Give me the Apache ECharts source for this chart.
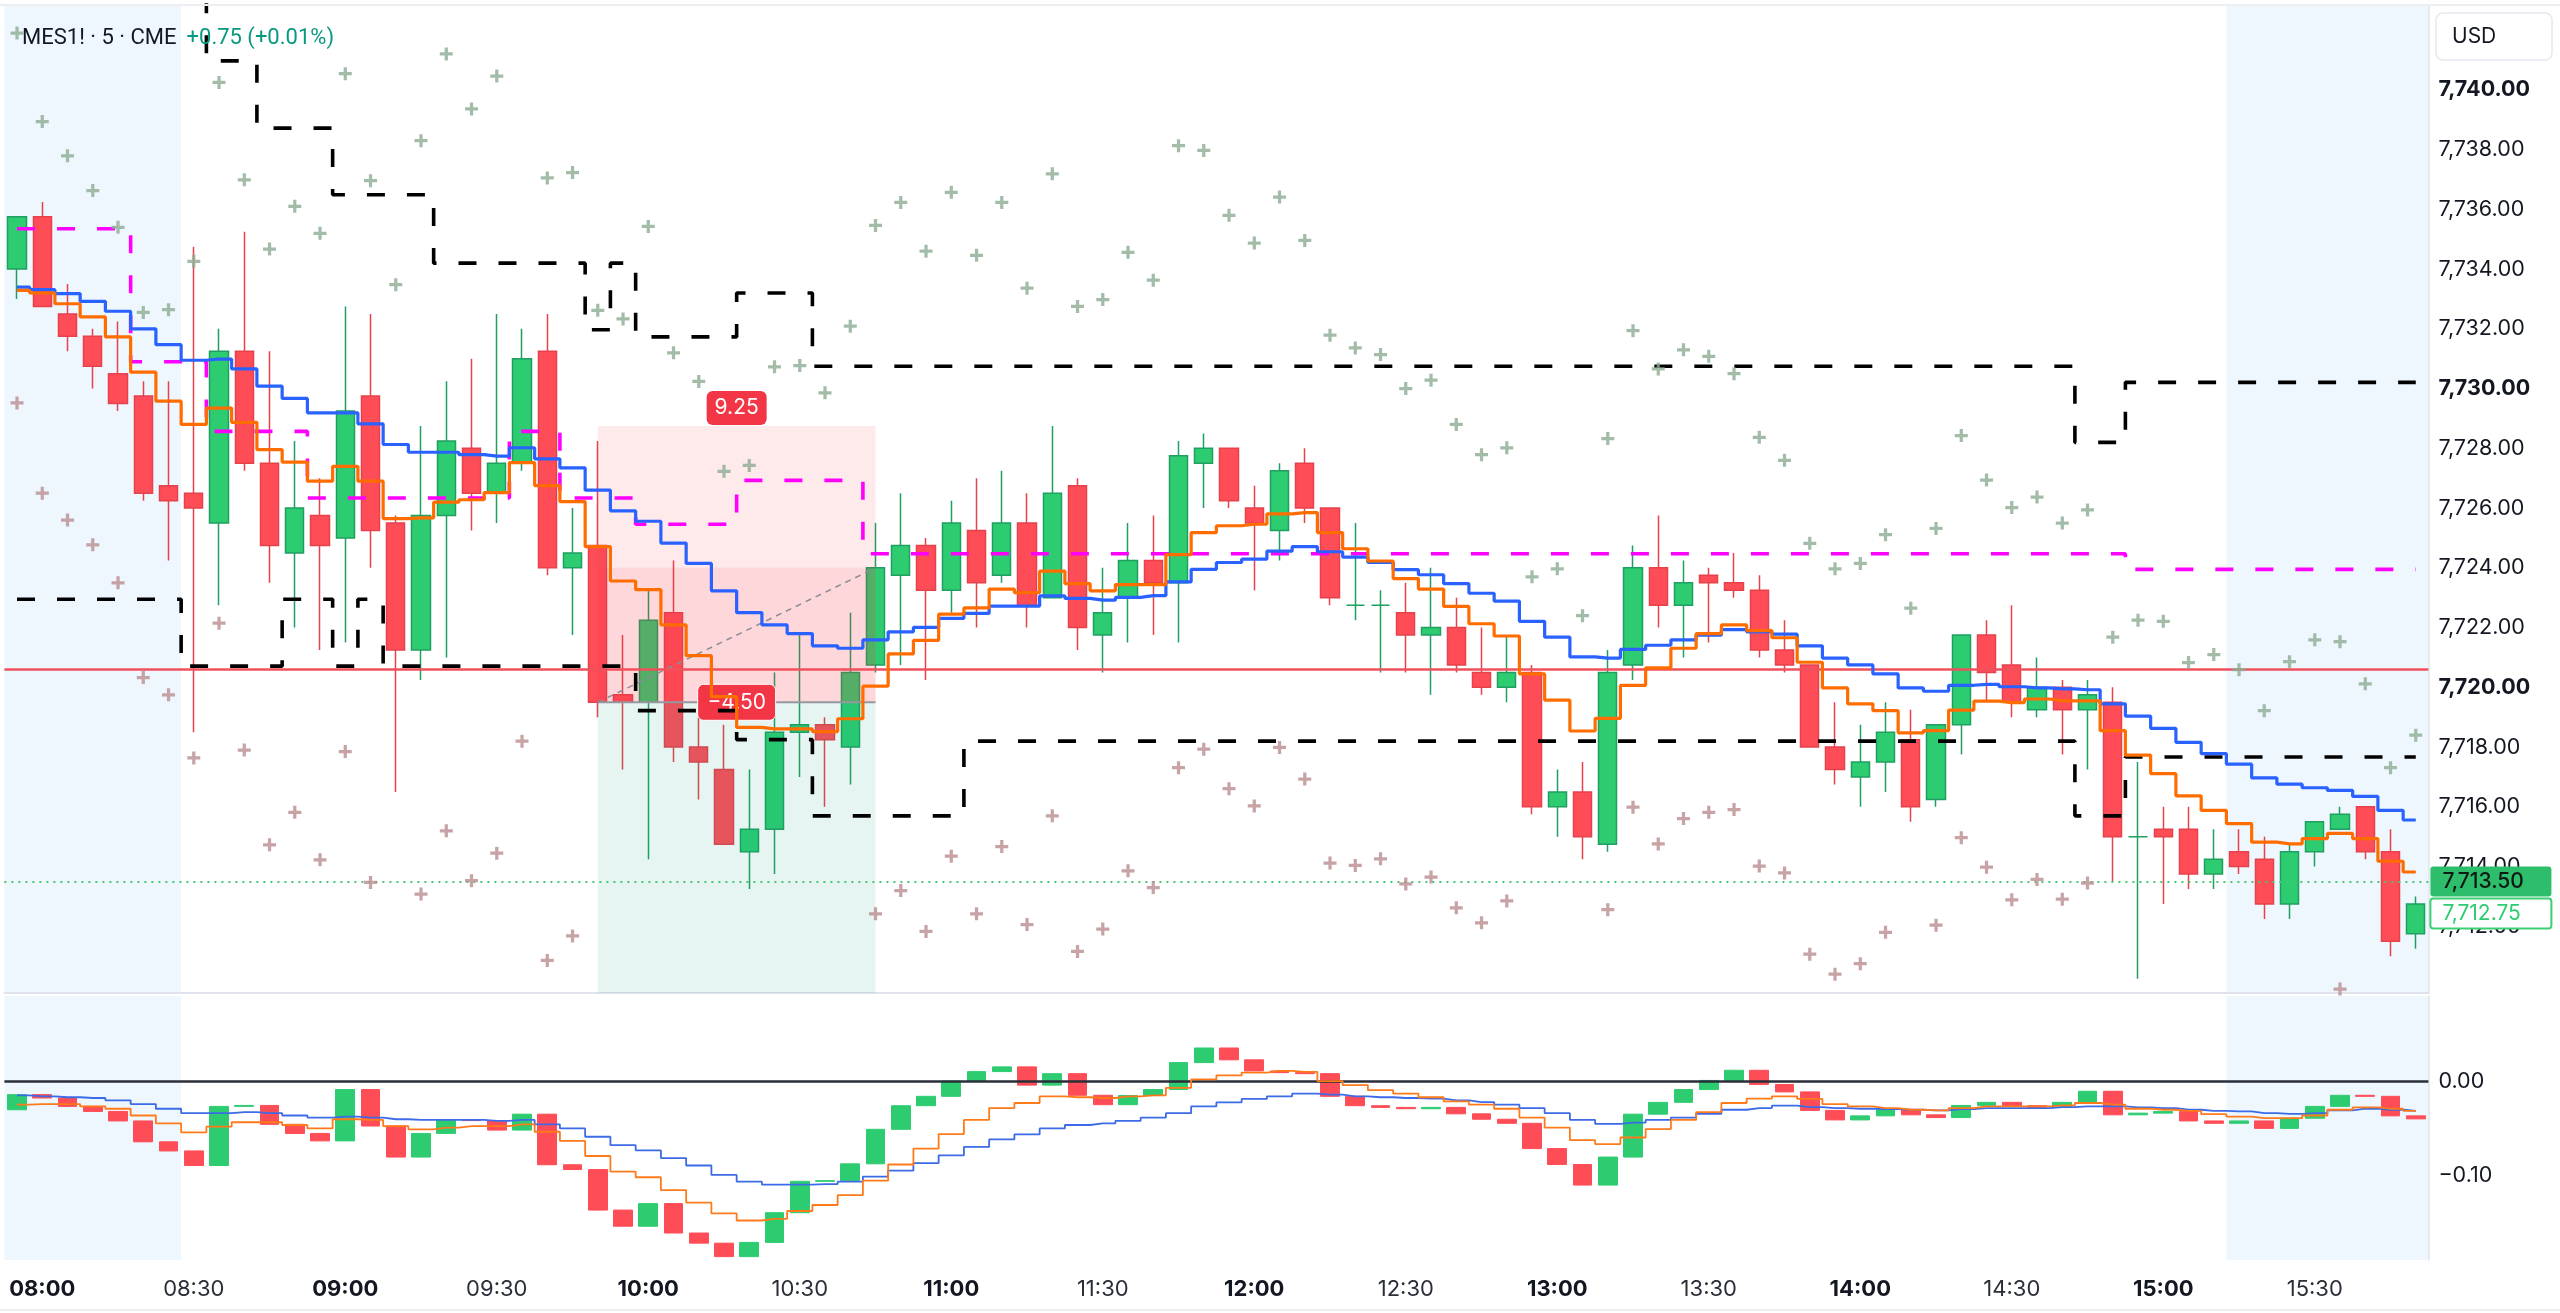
<!DOCTYPE html>
<html><head><meta charset="utf-8">
<script src="https://cdn.jsdelivr.net/npm/echarts@6/dist/echarts.min.js"></script>
<style>html,body{margin:0;padding:0;background:#fff;}#c{width:2560px;height:1313px;}</style>
</head><body><div id="c"></div>
<script>
const times = ["07:55",
"08:00","08:05","08:10","08:15","08:20","08:25","08:30","08:35","08:40","08:45","08:50","08:55",
"09:00","09:05","09:10","09:15","09:20","09:25","09:30","09:35","09:40","09:45","09:50","09:55",
"10:00","10:05","10:10","10:15","10:20","10:25","10:30","10:35","10:40","10:45","10:50","10:55",
"11:00","11:05","11:10","11:15","11:20","11:25","11:30","11:35","11:40","11:45","11:50","11:55",
"12:00","12:05","12:10","12:15","12:20","12:25","12:30","12:35","12:40","12:45","12:50","12:55",
"13:00","13:05","13:10","13:15","13:20","13:25","13:30","13:35","13:40","13:45","13:50","13:55",
"14:00","14:05","14:10","14:15","14:20","14:25","14:30","14:35","14:40","14:45","14:50","14:55",
"15:00","15:05","15:10","15:15","15:20","15:25","15:30","15:35","15:40","15:45","15:50"];

const opens = [7734.0,7735.75,7732.5,7731.75,7730.5,7729.75,7726.75,7726.5,7725.5,7731.25,
7727.5,7724.5,7725.75,7725.0,7729.75,7725.5,7721.25,7725.75,7728.0,7726.5,
7727.5,7731.25,7724.0,7724.75,7719.75,7719.5,7722.5,7718.0,7717.25,7714.5,
7715.25,7718.5,7718.75,7718.0,7720.75,7723.75,7724.75,7723.25,7725.25,7723.75,
7725.5,7723.0,7726.75,7721.75,7723.0,7724.25,7723.5,7727.5,7728.0,7726.0,
7725.25,7727.5,7726.0,7722.75,7722.75,7722.5,7721.75,7722.0,7720.5,7720.0,
7720.5,7716.0,7716.5,7714.75,7720.75,7724.0,7722.75,7723.75,7723.5,7723.25,
7721.25,7720.75,7718.0,7717.0,7717.5,7718.25,7716.25,7718.75,7721.75,7720.75,
7719.25,7720.0,7719.25,7719.5,7715.0,7715.25,7715.25,7713.75,7714.5,7714.25,
7712.75,7714.5,7715.25,7716.0,7714.5,7711.75];
const highs = [7735.75,7736.25,7733.5,7732.0,7732.25,7730.25,7730.25,7734.75,7732.0,7735.25,
7731.25,7728.25,7727.0,7732.75,7732.5,7725.75,7728.75,7730.25,7731.0,7732.5,
7732.0,7732.5,7726.0,7728.25,7721.75,7723.25,7724.25,7719.0,7718.75,7717.25,
7720.5,7721.75,7719.0,7722.5,7725.5,7726.5,7725.0,7726.25,7727.0,7727.25,
7726.5,7728.75,7727.0,7724.0,7725.5,7725.75,7728.25,7728.5,7728.0,7726.75,
7727.5,7728.0,7726.0,7725.5,7723.25,7723.5,7724.0,7723.0,7722.0,7721.75,
7720.75,7717.25,7717.5,7721.25,7724.75,7725.75,7724.25,7724.0,7724.5,7723.75,
7722.25,7720.75,7719.5,7718.75,7719.5,7719.25,7718.75,7721.75,7722.25,7722.75,
7721.0,7720.25,7720.25,7720.0,7717.5,7716.0,7716.0,7715.25,7715.25,7715.0,
7714.75,7715.5,7716.0,7716.0,7715.25,7713.0];
const lows = [7733.0,7732.75,7731.25,7730.0,7729.25,7726.25,7724.25,7718.5,7722.75,7727.25,
7723.5,7722.0,7721.25,7721.5,7724.0,7716.5,7720.25,7721.0,7725.25,7725.5,
7727.25,7723.75,7721.75,7719.0,7717.25,7714.25,7717.5,7716.25,7714.75,7713.25,
7713.75,7717.0,7716.0,7716.75,7720.5,7720.75,7720.25,7722.5,7722.0,7723.5,
7722.0,7723.0,7721.25,7720.5,7721.5,7721.75,7721.5,7726.0,7726.0,7723.25,
7724.25,7725.5,7722.75,7722.25,7720.5,7720.5,7719.75,7720.5,7719.75,7719.5,
7715.75,7715.0,7714.25,7714.5,7720.25,7722.0,7721.0,7721.5,7723.0,7721.0,
7720.5,7718.0,7716.75,7716.0,7716.5,7715.5,7716.0,7717.75,7719.5,7719.0,
7719.0,7717.75,7717.25,7713.5,7710.25,7712.75,7713.25,7713.25,7713.75,7712.25,
7712.25,7714.0,7715.25,7714.25,7711.0,7711.25];
const closes = [7735.75,7732.75,7731.75,7730.75,7729.5,7726.5,7726.25,7726.0,7731.25,7727.5,
7724.75,7726.0,7724.75,7729.25,7725.25,7721.25,7725.75,7728.25,7726.5,7727.5,
7731.0,7724.0,7724.5,7719.5,7719.5,7722.25,7718.0,7717.5,7714.75,7715.25,
7718.5,7718.75,7718.25,7720.5,7724.0,7724.75,7723.25,7725.5,7723.5,7725.5,
7722.75,7726.5,7722.0,7722.5,7724.25,7723.5,7727.75,7728.0,7726.25,7725.5,
7727.25,7726.0,7723.0,7722.75,7722.75,7721.75,7722.0,7720.75,7720.0,7720.5,
7716.0,7716.5,7715.0,7720.5,7724.0,7722.75,7723.5,7723.5,7723.25,7721.25,
7720.75,7718.0,7717.25,7717.5,7718.5,7716.0,7718.75,7721.75,7720.5,7719.5,
7720.0,7719.25,7719.75,7715.0,7715.0,7715.0,7713.75,7714.25,7714.0,7712.75,
7714.5,7715.5,7715.75,7714.5,7711.5,7712.75];

const blueLine = [7733.40,7733.31,7733.18,7732.92,7732.59,7732.00,7731.47,7730.95,7730.99,7730.66,
7730.08,7729.67,7729.19,7729.19,7728.82,7728.13,7727.87,7727.87,7727.79,7727.74,
7728.02,7727.65,7727.35,7726.60,7725.91,7725.56,7724.83,7724.15,7723.23,7722.50,
7722.09,7721.80,7721.39,7721.31,7721.59,7721.86,7722.01,7722.31,7722.48,7722.72,
7722.72,7723.06,7722.98,7722.92,7723.01,7723.07,7723.53,7723.95,7724.18,7724.29,
7724.56,7724.71,7724.54,7724.36,7724.18,7723.94,7723.77,7723.47,7723.15,7722.89,
7722.21,7721.68,7721.02,7720.98,7721.27,7721.41,7721.59,7721.75,7721.93,7721.86,
7721.78,7721.39,7720.98,7720.75,7720.45,7719.98,7719.87,7720.07,7720.10,7720.02,
7719.98,7719.95,7719.92,7719.45,7719.04,7718.63,7718.16,7717.78,7717.43,7716.97,
7716.76,7716.64,7716.55,7716.35,7715.88,7715.56];
const orangeLine = [7733.29,7733.20,7732.84,7732.40,7731.73,7730.55,7729.58,7728.80,7729.35,7728.87,
7727.96,7727.54,7726.90,7727.40,7726.90,7725.65,7725.67,7726.20,7726.28,7726.52,
7727.52,7726.75,7726.22,7724.71,7723.56,7723.27,7722.09,7721.06,7719.69,7718.66,
7718.61,7718.61,7718.52,7718.95,7720.04,7721.12,7721.57,7722.45,7722.66,7723.29,
7723.17,7723.89,7723.47,7723.23,7723.44,7723.44,7724.44,7725.18,7725.41,7725.46,
7725.81,7725.85,7725.18,7724.64,7724.23,7723.64,7723.29,7722.71,7722.13,7721.72,
7720.45,7719.57,7718.54,7718.96,7720.07,7720.65,7721.31,7721.80,7722.09,7721.90,
7721.66,7720.84,7719.98,7719.45,7719.22,7718.48,7718.55,7719.24,7719.54,7719.49,
7719.61,7719.55,7719.55,7718.55,7717.73,7717.11,7716.37,7715.88,7715.44,7714.82,
7714.76,7714.94,7715.11,7714.94,7714.18,7713.82];
const magentaLine = [7735.35,7735.35,7735.35,7735.35,7735.35,7730.9,7730.9,7730.9,7728.57,7728.57,
7728.57,7728.57,7726.34,7726.34,7726.34,7726.34,7726.34,7726.34,7726.34,7726.34,
7728.57,7728.57,7726.34,7726.34,7726.34,7725.46,7725.46,7725.46,7725.46,7726.93,
7726.93,7726.93,7726.93,7726.93,7724.47,7724.47,7724.47,7724.47,7724.47,7724.47,
7724.47,7724.47,7724.47,7724.47,7724.47,7724.47,7724.47,7724.47,7724.47,7724.47,
7724.47,7724.47,7724.47,7724.47,7724.47,7724.47,7724.47,7724.47,7724.47,7724.47,
7724.47,7724.47,7724.47,7724.47,7724.47,7724.47,7724.47,7724.47,7724.47,7724.47,
7724.47,7724.47,7724.47,7724.47,7724.47,7724.47,7724.47,7724.47,7724.47,7724.47,
7724.47,7724.47,7724.47,7724.47,7723.95,7723.95,7723.95,7723.95,7723.95,7723.95,
7723.95,7723.95,7723.95,7723.95,7723.95,7723.95];
const blackUpper = [null,null,null,null,null,null,null,7745,7740.97,7740.97,
7738.72,7738.72,7738.72,7736.49,7736.49,7736.49,7736.49,7734.2,7734.2,7734.2,
7734.2,7734.2,7734.2,7731.97,7734.2,7731.73,7731.73,7731.73,7731.73,7733.2,
7733.2,7733.2,7730.75,7730.75,7730.75,7730.75,7730.75,7730.75,7730.75,7730.75,
7730.75,7730.75,7730.75,7730.75,7730.75,7730.75,7730.75,7730.75,7730.75,7730.75,
7730.75,7730.75,7730.75,7730.75,7730.75,7730.75,7730.75,7730.75,7730.75,7730.75,
7730.75,7730.75,7730.75,7730.75,7730.75,7730.75,7730.75,7730.75,7730.75,7730.75,
7730.75,7730.75,7730.75,7730.75,7730.75,7730.75,7730.75,7730.75,7730.75,7730.75,
7730.75,7730.75,7728.2,7728.2,7730.21,7730.21,7730.21,7730.21,7730.21,7730.21,
7730.21,7730.21,7730.21,7730.21,7730.21,7730.21];
const blackLower = [7722.95,7722.95,7722.95,7722.95,7722.95,7722.95,7722.95,7720.71,7720.71,7720.71,
7720.71,7722.95,7722.95,7720.71,7722.95,7720.71,7720.71,7720.71,7720.71,7720.71,
7720.71,7720.71,7720.71,7720.71,7720.71,7719.22,7719.22,7719.22,7719.22,7718.25,
7718.25,7718.25,7715.7,7715.7,7715.7,7715.7,7715.7,7715.7,7718.2,7718.2,
7718.2,7718.2,7718.2,7718.2,7718.2,7718.2,7718.2,7718.2,7718.2,7718.2,
7718.2,7718.2,7718.2,7718.2,7718.2,7718.2,7718.2,7718.2,7718.2,7718.2,
7718.2,7718.2,7718.2,7718.2,7718.2,7718.2,7718.2,7718.2,7718.2,7718.2,
7718.2,7718.2,7718.2,7718.2,7718.2,7718.2,7718.2,7718.2,7718.2,7718.2,
7718.2,7718.2,7715.7,7715.7,7717.67,7717.67,7717.67,7717.67,7717.67,7717.67,
7717.67,7717.67,7717.67,7717.67,7717.67,7717.67];
const crossUpper = [7741.9,7738.94,7737.79,7736.63,7735.4,7732.55,7732.64,7734.26,7740.25,7736.99,
7734.67,7736.1,7735.2,7740.54,7736.96,7733.48,7738.3,7741.2,7739.36,7740.46,
null,7737.05,7737.23,7732.62,7732.33,7735.43,7731.2,7730.24,7727.23,7727.43,
7730.73,7730.77,7729.86,7732.09,7735.46,7736.23,7734.6,7736.57,7734.46,7736.23,
7733.36,7737.19,7732.75,7732.98,7734.56,7733.63,7738.13,7737.97,7735.8,7734.87,
7736.41,7734.96,7731.79,7731.36,7731.14,7730.0,7730.28,7728.8,7727.79,7728.02,
7723.7,7723.97,7722.4,7728.33,7731.94,7730.66,7731.3,7731.08,7730.5,7728.37,
7727.6,7724.82,7723.97,7724.15,7725.11,7722.65,7725.32,7728.43,7726.94,7726.02,
7726.37,7725.5,7725.94,7721.68,7722.25,7722.21,7720.83,7721.1,7720.59,7719.22,
7720.86,7721.59,7721.53,7720.12,7717.31,7718.4];
const crossLower = [7729.52,7726.5,7725.6,7724.77,7723.5,7720.33,7719.75,7717.64,7722.15,7717.9,
7714.73,7715.82,7714.23,7717.85,7713.47,null,7713.08,7715.2,7713.53,7714.45,
7718.2,7710.86,7711.68,null,null,null,null,null,null,null,
null,null,null,null,7712.42,7713.2,7711.83,7714.35,7712.42,7714.67,
7712.06,7715.7,7711.16,7711.91,7713.86,7713.3,7717.31,7717.93,7716.61,7716.03,
7717.99,7716.93,7714.12,7714.04,7714.26,7713.42,7713.65,7712.62,7712.12,7712.85,
null,null,null,7712.56,7715.99,7714.76,7715.61,7715.82,7715.91,7714.02,
7713.79,7711.07,7710.4,7710.75,7711.8,null,7712.04,7714.97,7713.98,7712.89,
7713.57,7712.91,7713.45,null,null,null,null,null,null,null,
null,null,7709.9,null,null,null];

const oscStart = -0.0305;
const oscValues = [-0.0144,-0.018,-0.0269,-0.0323,-0.0424,-0.0646,-0.0743,-0.0898,-0.0269,-0.0259,
-0.046,-0.0557,-0.0636,-0.009,-0.0478,-0.0808,-0.0557,-0.0413,-0.042,-0.0521,
-0.0352,-0.089,-0.0941,-0.1372,-0.1544,-0.1303,-0.1616,-0.1724,-0.1867,-0.1716,
-0.14,-0.1066,-0.1059,-0.088,-0.0513,-0.0262,-0.0162,0.0,0.0101,0.0151,
-0.0043,0.0079,-0.0151,-0.0251,-0.0154,-0.009,0.0197,0.0352,0.0226,0.0108,
0.009,0.0079,-0.0162,-0.0262,-0.028,-0.0294,-0.028,-0.0348,-0.0406,-0.0449,
-0.0718,-0.0887,-0.1106,-0.0808,-0.0352,-0.0226,-0.009,0.0007,0.0115,-0.0036,
-0.0115,-0.0312,-0.0413,-0.037,-0.0305,-0.0359,-0.0388,-0.0259,-0.0226,-0.0262,
-0.028,-0.0226,-0.0108,-0.0359,-0.0341,-0.0323,-0.0424,-0.0449,-0.0424,-0.0503,
-0.0395,-0.0269,-0.0151,-0.0162,-0.037,-0.0402];
const oscBlue = [-0.0151,-0.0162,-0.0172,-0.018,-0.0205,-0.0244,-0.0294,-0.0341,-0.0341,-0.033,
-0.0341,-0.0366,-0.0388,-0.0377,-0.0388,-0.0406,-0.0413,-0.0413,-0.0413,-0.0424,
-0.0413,-0.046,-0.0503,-0.0592,-0.0682,-0.0736,-0.0819,-0.0898,-0.0998,-0.107,
-0.1102,-0.1102,-0.1095,-0.107,-0.1016,-0.0952,-0.0873,-0.079,-0.07,-0.0621,
-0.0567,-0.0503,-0.0467,-0.0449,-0.0424,-0.0388,-0.0341,-0.0269,-0.0226,-0.019,
-0.0162,-0.0133,-0.0144,-0.0162,-0.0172,-0.018,-0.0187,-0.0205,-0.0223,-0.0251,
-0.0287,-0.0341,-0.0413,-0.0456,-0.0442,-0.0413,-0.0388,-0.0348,-0.0305,-0.0287,
-0.0262,-0.0276,-0.0287,-0.0294,-0.0298,-0.0305,-0.0312,-0.0298,-0.0287,-0.0287,
-0.0287,-0.0276,-0.0269,-0.0269,-0.028,-0.0287,-0.0305,-0.0316,-0.0323,-0.0341,
-0.0348,-0.0341,-0.0312,-0.0294,-0.0305,-0.0316];
const oscOrange = [-0.0251,-0.0244,-0.0244,-0.0269,-0.0294,-0.0366,-0.0449,-0.0546,-0.0485,-0.0438,
-0.0438,-0.0467,-0.0503,-0.0406,-0.0413,-0.0478,-0.0514,-0.0496,-0.0478,-0.0478,
-0.046,-0.0539,-0.0636,-0.0797,-0.0962,-0.1023,-0.116,-0.1293,-0.1408,-0.1483,
-0.1465,-0.1382,-0.1318,-0.1214,-0.1059,-0.0887,-0.0718,-0.0564,-0.0413,-0.0287,
-0.0233,-0.0162,-0.0172,-0.018,-0.0162,-0.0151,-0.0072,0.0018,0.0061,0.009,
0.0108,0.0097,0.0,-0.0043,-0.0097,-0.0133,-0.0172,-0.0215,-0.0251,-0.0294,
-0.0388,-0.0496,-0.0628,-0.0671,-0.06,-0.051,-0.0413,-0.033,-0.0233,-0.0187,
-0.0162,-0.019,-0.0244,-0.0269,-0.0287,-0.0305,-0.0312,-0.0287,-0.0269,-0.0269,
-0.0269,-0.0259,-0.0233,-0.0251,-0.0294,-0.0305,-0.0316,-0.0352,-0.0377,-0.0395,
-0.0395,-0.0366,-0.0305,-0.028,-0.0294,-0.0316];

const priceTicks = [7712,7714,7716,7718,7720,7722,7724,7726,7728,7730,7732,7734,7736,7738,7740];
const oscTicks = [0, -0.1];
const sessionShades = [[0, 6], [88, 95]];
const refLevel = 7720.6;
const lastLevel = 7713.5;
const priceTags = [7713.50, 7712.75];
// short position: [entryBar, exitBar, entry, stop, target, current]
const position = [23, 34, 7719.5, 7728.75, 7705.0, 7724.0];
const changeText = '+0.75 (+0.01%)';

const FONT = 'Roboto, "Noto Sans", sans-serif';
const NUMFONT = 'Inter, Roboto, sans-serif';
const upColor = '#2ecc71', upBorder = '#1f9f62', downColor = '#ff4d57', downBorder = '#e5424c';

function fmtPrice(v) {
  const s = Math.abs(v).toFixed(2);
  const parts = s.split('.');
  parts[0] = parts[0].replace(/\B(?=(\d{3})+(?!\d))/g, ',');
  return (v < -1e-9 ? '\u2212' : '') + parts.join('.');
}

const candleData = opens.map((o, i) => {
  const item = { value: [o, closes[i], lows[i], highs[i]] };
  if (o === closes[i]) item.itemStyle = { color: upBorder, borderColor: upBorder, color0: upBorder, borderColor0: upBorder };
  return item;
});
const oscData = oscValues.map((v, i) => {
  const o = i === 0 ? oscStart : oscValues[i - 1];
  return [o, v, Math.min(o, v), Math.max(o, v)];
});

function shadeRender(params, api) {
  const cs = params.coordSys;
  const bw = api.size([1, 0])[0];
  const x0 = api.coord([api.value(0), 0])[0] - bw / 2;
  const x1 = api.coord([api.value(1), 0])[0] + bw / 2;
  return { type: 'rect', silent: true, shape: { x: x0, y: cs.y, width: x1 - x0, height: cs.height },
    style: { fill: 'rgba(33,150,243,0.075)' } };
}

function positionRender(params, api) {
  const cs = params.coordSys;
  const x0 = api.coord([api.value(0), 0])[0];
  const x1 = api.coord([api.value(1), 0])[0];
  const entry = api.value(2), stop = api.value(3), target = api.value(4), cur = api.value(5);
  const yE = api.coord([0, entry])[1];
  const yS = Math.max(api.coord([0, stop])[1], cs.y);
  const yT = Math.min(api.coord([0, target])[1], cs.y + cs.height);
  const yC = api.coord([0, cur])[1];
  const mid = (x0 + x1) / 2;
  const risk = fmtPrice(stop - entry);
  const pnl = fmtPrice(entry - cur);
  return { type: 'group', children: [
    { type: 'rect', shape: { x: x0, y: yS, width: x1 - x0, height: yE - yS }, style: { fill: 'rgba(242,54,69,0.11)' } },
    { type: 'rect', shape: { x: x0, y: Math.min(yC, yE), width: x1 - x0, height: Math.abs(yE - yC) }, style: { fill: 'rgba(242,54,69,0.10)' } },
    { type: 'rect', shape: { x: x0, y: yE, width: x1 - x0, height: yT - yE }, style: { fill: 'rgba(8,153,129,0.10)' } },
    { type: 'line', shape: { x1: x0, y1: yE, x2: x1, y2: yE }, style: { stroke: '#9598a1', lineWidth: 2 } },
    { type: 'line', shape: { x1: x0, y1: yE, x2: x1, y2: yC }, style: { stroke: '#8a8d96', lineWidth: 1.5, lineDash: [6, 5] } },
    { type: 'rect', shape: { x: mid - 30, y: yS - 35, width: 60, height: 34, r: 6 }, style: { fill: '#f23645' } },
    { type: 'text', style: { text: risk, x: mid, y: yS - 18, align: 'center', verticalAlign: 'middle', fill: '#fff', font: '21px ' + NUMFONT } },
    { type: 'rect', shape: { x: mid - 39, y: yE - 18, width: 78, height: 36, r: 6 }, style: { fill: '#f23645', stroke: '#fff', lineWidth: 1 } },
    { type: 'text', style: { text: pnl, x: mid, y: yE, align: 'center', verticalAlign: 'middle', fill: '#fff', font: '21px ' + NUMFONT } }
  ] };
}

let prevTagBottom = -1e9;
function tagRender(params, api) {
  const cs = params.coordSys;
  const p = api.value(1);
  const yc = api.coord([0, p])[1];
  const h = 30;
  let top = yc - h / 2;
  if (params.dataIndex === 0) prevTagBottom = -1e9;
  if (top < prevTagBottom + 2) top = prevTagBottom + 2;
  prevTagBottom = top + h;
  const x = cs.x + cs.width + 2;
  const filled = params.dataIndex === 0;
  return { type: 'group', children: [
    { type: 'rect', shape: { x: x, y: top, width: 121, height: h, r: 3 },
      style: filled ? { fill: '#2ebd6b' } : { fill: '#fff', stroke: '#3ccf74', lineWidth: 2 } },
    { type: 'text', style: { text: fmtPrice(p), x: x + 12, y: top + h / 2, align: 'left', verticalAlign: 'middle',
      fill: filled ? '#0c1a12' : '#2ecc71', font: (filled ? '500 ' : '') + '21px ' + NUMFONT } }
  ] };
}

const dashStyle = [18, 22];
const chart = echarts.init(document.getElementById('c'));
chart.setOption({
  animation: false,
  backgroundColor: '#ffffff',
  title: {
    text: '{a|MES1! · 5 · CME}  {b|' + changeText + '}',
    left: 17, top: 22,
    textStyle: { fontWeight: 'normal', rich: {
      a: { fontSize: 22, fontWeight: 'normal', color: '#131722', fontFamily: FONT },
      b: { fontSize: 22, fontWeight: 'normal', color: '#089981', fontFamily: FONT }
    } }
  },
  graphic: [
    { type: 'line', shape: { x1: 0, y1: 5, x2: 2560, y2: 5 }, style: { stroke: '#eceef2', lineWidth: 2 }, z: 100 },
    { type: 'line', shape: { x1: 0, y1: 1310, x2: 2560, y2: 1310 }, style: { stroke: '#eceef2', lineWidth: 2 } },
    { type: 'rect', shape: { x: 2436, y: 13, width: 116, height: 47, r: 7 }, style: { fill: '#fff', stroke: '#e6e8ee', lineWidth: 1.5 }, z: 100 },
    { type: 'text', style: { text: 'USD', x: 2452, y: 37, verticalAlign: 'middle', fill: '#131722', font: '21px ' + NUMFONT }, z: 101 }
  ],
  grid: [
    { left: 4.4, right: 131.6, top: 5, height: 988 },
    { left: 4.4, right: 131.6, top: 996, height: 264 }
  ],
  xAxis: [
    { type: 'category', gridIndex: 0, data: times, boundaryGap: true,
      axisLine: { show: true, lineStyle: { color: '#e0e3eb', width: 2 } }, axisTick: { show: false },
      axisLabel: { show: false }, splitLine: { show: false } },
    { type: 'category', gridIndex: 1, data: times, boundaryGap: true,
      axisLine: { show: false }, axisTick: { show: false }, splitLine: { show: false },
      axisLabel: {
        margin: 18,
        interval: (i, v) => v.endsWith(':00') || v.endsWith(':30'),
        formatter: v => v.endsWith(':00') ? '{b|' + v + '}' : '{n|' + v + '}',
        rich: {
          b: { fontSize: 22, fontWeight: 'bold', color: '#131722', fontFamily: NUMFONT },
          n: { fontSize: 22, color: '#2a2e39', fontFamily: NUMFONT }
        }
      } }
  ],
  yAxis: [
    { type: 'value', gridIndex: 0, position: 'right', min: 7709.77, max: 7742.84,
      splitLine: { show: false }, axisTick: { show: false },
      axisLine: { show: true, lineStyle: { color: '#e0e3eb', width: 1.5 } },
      axisLabel: { customValues: priceTicks, margin: 10, align: 'left',
        formatter: v => (Math.round(v) % 10 === 0 ? '{b|' : '{n|') + fmtPrice(v) + '}',
        rich: {
          b: { fontSize: 21.5, fontWeight: 'bold', color: '#131722', fontFamily: NUMFONT },
          n: { fontSize: 21.5, color: '#131722', fontFamily: NUMFONT }
        } } },
    { type: 'value', gridIndex: 1, position: 'right', min: -0.1903, max: 0.0905,
      splitLine: { show: false }, axisTick: { show: false },
      axisLine: { show: true, lineStyle: { color: '#e0e3eb', width: 1.5 } },
      axisLabel: { customValues: oscTicks, margin: 10, align: 'left', fontSize: 21.5, color: '#131722', fontFamily: NUMFONT,
        formatter: v => fmtPrice(v) } }
  ],
  series: [
    { type: 'custom', xAxisIndex: 0, yAxisIndex: 0, z: 0, silent: true, renderItem: shadeRender, data: sessionShades, encode: { x: [0, 1] } },
    { type: 'custom', xAxisIndex: 1, yAxisIndex: 1, z: 0, silent: true, renderItem: shadeRender, data: sessionShades, encode: { x: [0, 1] } },
    { type: 'candlestick', name: 'MES1!', xAxisIndex: 0, yAxisIndex: 0, z: 3, barWidth: '74%',
      data: candleData,
      itemStyle: { color: upColor, color0: downColor, borderColor: upBorder, borderColor0: downBorder, borderWidth: 1.5 },
      markLine: { silent: true, symbol: 'none', animation: false, label: { show: false },
        data: [
          { yAxis: refLevel, lineStyle: { color: '#f0505c', width: 2.5, type: 'solid' } },
          { yAxis: lastLevel, lineStyle: { color: '#46c96f', width: 2, type: [2, 5] } }
        ] } },
    { type: 'custom', name: 'position', xAxisIndex: 0, yAxisIndex: 0, z: 4, silent: true,
      renderItem: positionRender, data: [position], encode: { x: [0, 1], y: [2, 3] } },
    { type: 'line', name: 'blackUpper', data: blackUpper, step: 'middle', symbol: 'none', z: 5,
      lineStyle: { color: '#000', width: 3.6, type: dashStyle }, connectNulls: false },
    { type: 'line', name: 'blackLower', data: blackLower, step: 'middle', symbol: 'none', z: 5,
      lineStyle: { color: '#000', width: 3.6, type: dashStyle } },
    { type: 'line', name: 'magenta', data: magentaLine, step: 'middle', symbol: 'none', z: 5,
      lineStyle: { color: '#ff00ff', width: 3.6, type: dashStyle } },
    { type: 'line', name: 'blue', data: blueLine, step: 'middle', symbol: 'none', z: 6,
      lineStyle: { color: '#2962ff', width: 3.2 } },
    { type: 'line', name: 'orange', data: orangeLine, step: 'middle', symbol: 'none', z: 6,
      lineStyle: { color: '#ff6d00', width: 3.2 } },
    { type: 'scatter', name: 'upper', data: crossUpper, z: 7, symbol: 'path://M3,0H5V3H8V5H5V8H3V5H0V3H3Z', symbolSize: 13,
      itemStyle: { color: '#8cab92' } },
    { type: 'scatter', name: 'lower', data: crossLower, z: 7, symbol: 'path://M3,0H5V3H8V5H5V8H3V5H0V3H3Z', symbolSize: 13,
      itemStyle: { color: '#b98c90' } },
    { type: 'custom', name: 'tags', xAxisIndex: 0, yAxisIndex: 0, z: 20, silent: true, renderItem: tagRender,
      data: priceTags.map(p => [0, p]), encode: { x: 0, y: 1 } },
    { type: 'candlestick', name: 'osc', xAxisIndex: 1, yAxisIndex: 1, z: 3, barWidth: '76%', data: oscData,
      itemStyle: { color: upColor, color0: downColor, borderColor: upColor, borderColor0: downColor, borderWidth: 1 },
      markLine: { silent: true, symbol: 'none', label: { show: false },
        data: [{ yAxis: 0, lineStyle: { color: '#2a2e39', width: 2.5, type: 'solid' } }] } },
    { type: 'line', name: 'oscBlue', xAxisIndex: 1, yAxisIndex: 1, data: oscBlue, step: 'middle', symbol: 'none', z: 5,
      lineStyle: { color: '#3d6be8', width: 1.8 } },
    { type: 'line', name: 'oscOrange', xAxisIndex: 1, yAxisIndex: 1, data: oscOrange, step: 'middle', symbol: 'none', z: 5,
      lineStyle: { color: '#ff7a1a', width: 1.8 } }
  ]
});
</script>
</body></html>
